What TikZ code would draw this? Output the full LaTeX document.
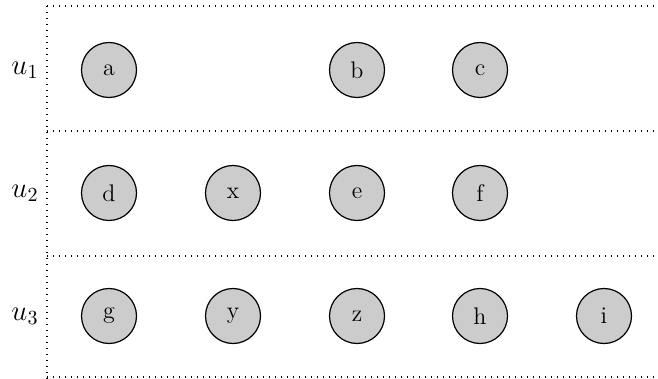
\documentclass[tikz,border=0pt]{standalone}
\usepackage{amsmath, amssymb}
\usepackage{xcolor}
\usepackage{tikz}
\usetikzlibrary{arrows.meta, positioning, calc}

\begin{document}
\begin{tikzpicture}[x=0.5pt, y=-0.5pt, every node/.style={font=\large},
    vert/.style={draw,circle,fill=black!20,line width=0.6pt,minimum size=27.5pt,inner sep=0pt},
    lane/.style={line width=0.6pt,dash pattern=on 0.6pt off 2.4pt}]
    \useasboundingbox (0,0) rectangle (658,379);
    % lanes
    \draw[lane] (47,6) -- (658,6);
    \draw[lane] (47,131) -- (658,131);
    \draw[lane] (47,256) -- (658,256);
    \draw[lane] (47,377) -- (658,377);
    \draw[lane] (47,6) -- (47,379);
    \node[font=\Large] (u1) at (25,70) {$u_1$};
    \node[font=\Large] (u2) at (25,193) {$u_2$};
    \node[font=\Large] (u3) at (25,316) {$u_3$};
    % first lane
    \node[vert] (a) at (109,70) {a};
    \node[vert] (b) at (357,70) {b};
    \node[vert] (c) at (480,70) {c};
    % second lane
    \node[vert] (d) at (109,193) {d};
    \node[vert] (x) at (233,193) {x};
    \node[vert] (e) at (357,193) {e};
    \node[vert] (f) at (480,193) {f};
    % third lane
    \node[vert] (g) at (109,316) {g};
    \node[vert] (y) at (233,316) {y};
    \node[vert] (z) at (357,316) {z};
    \node[vert] (h) at (480,316) {h};
    \node[vert] (i) at (604,316) {i};
\end{tikzpicture}
\end{document}
